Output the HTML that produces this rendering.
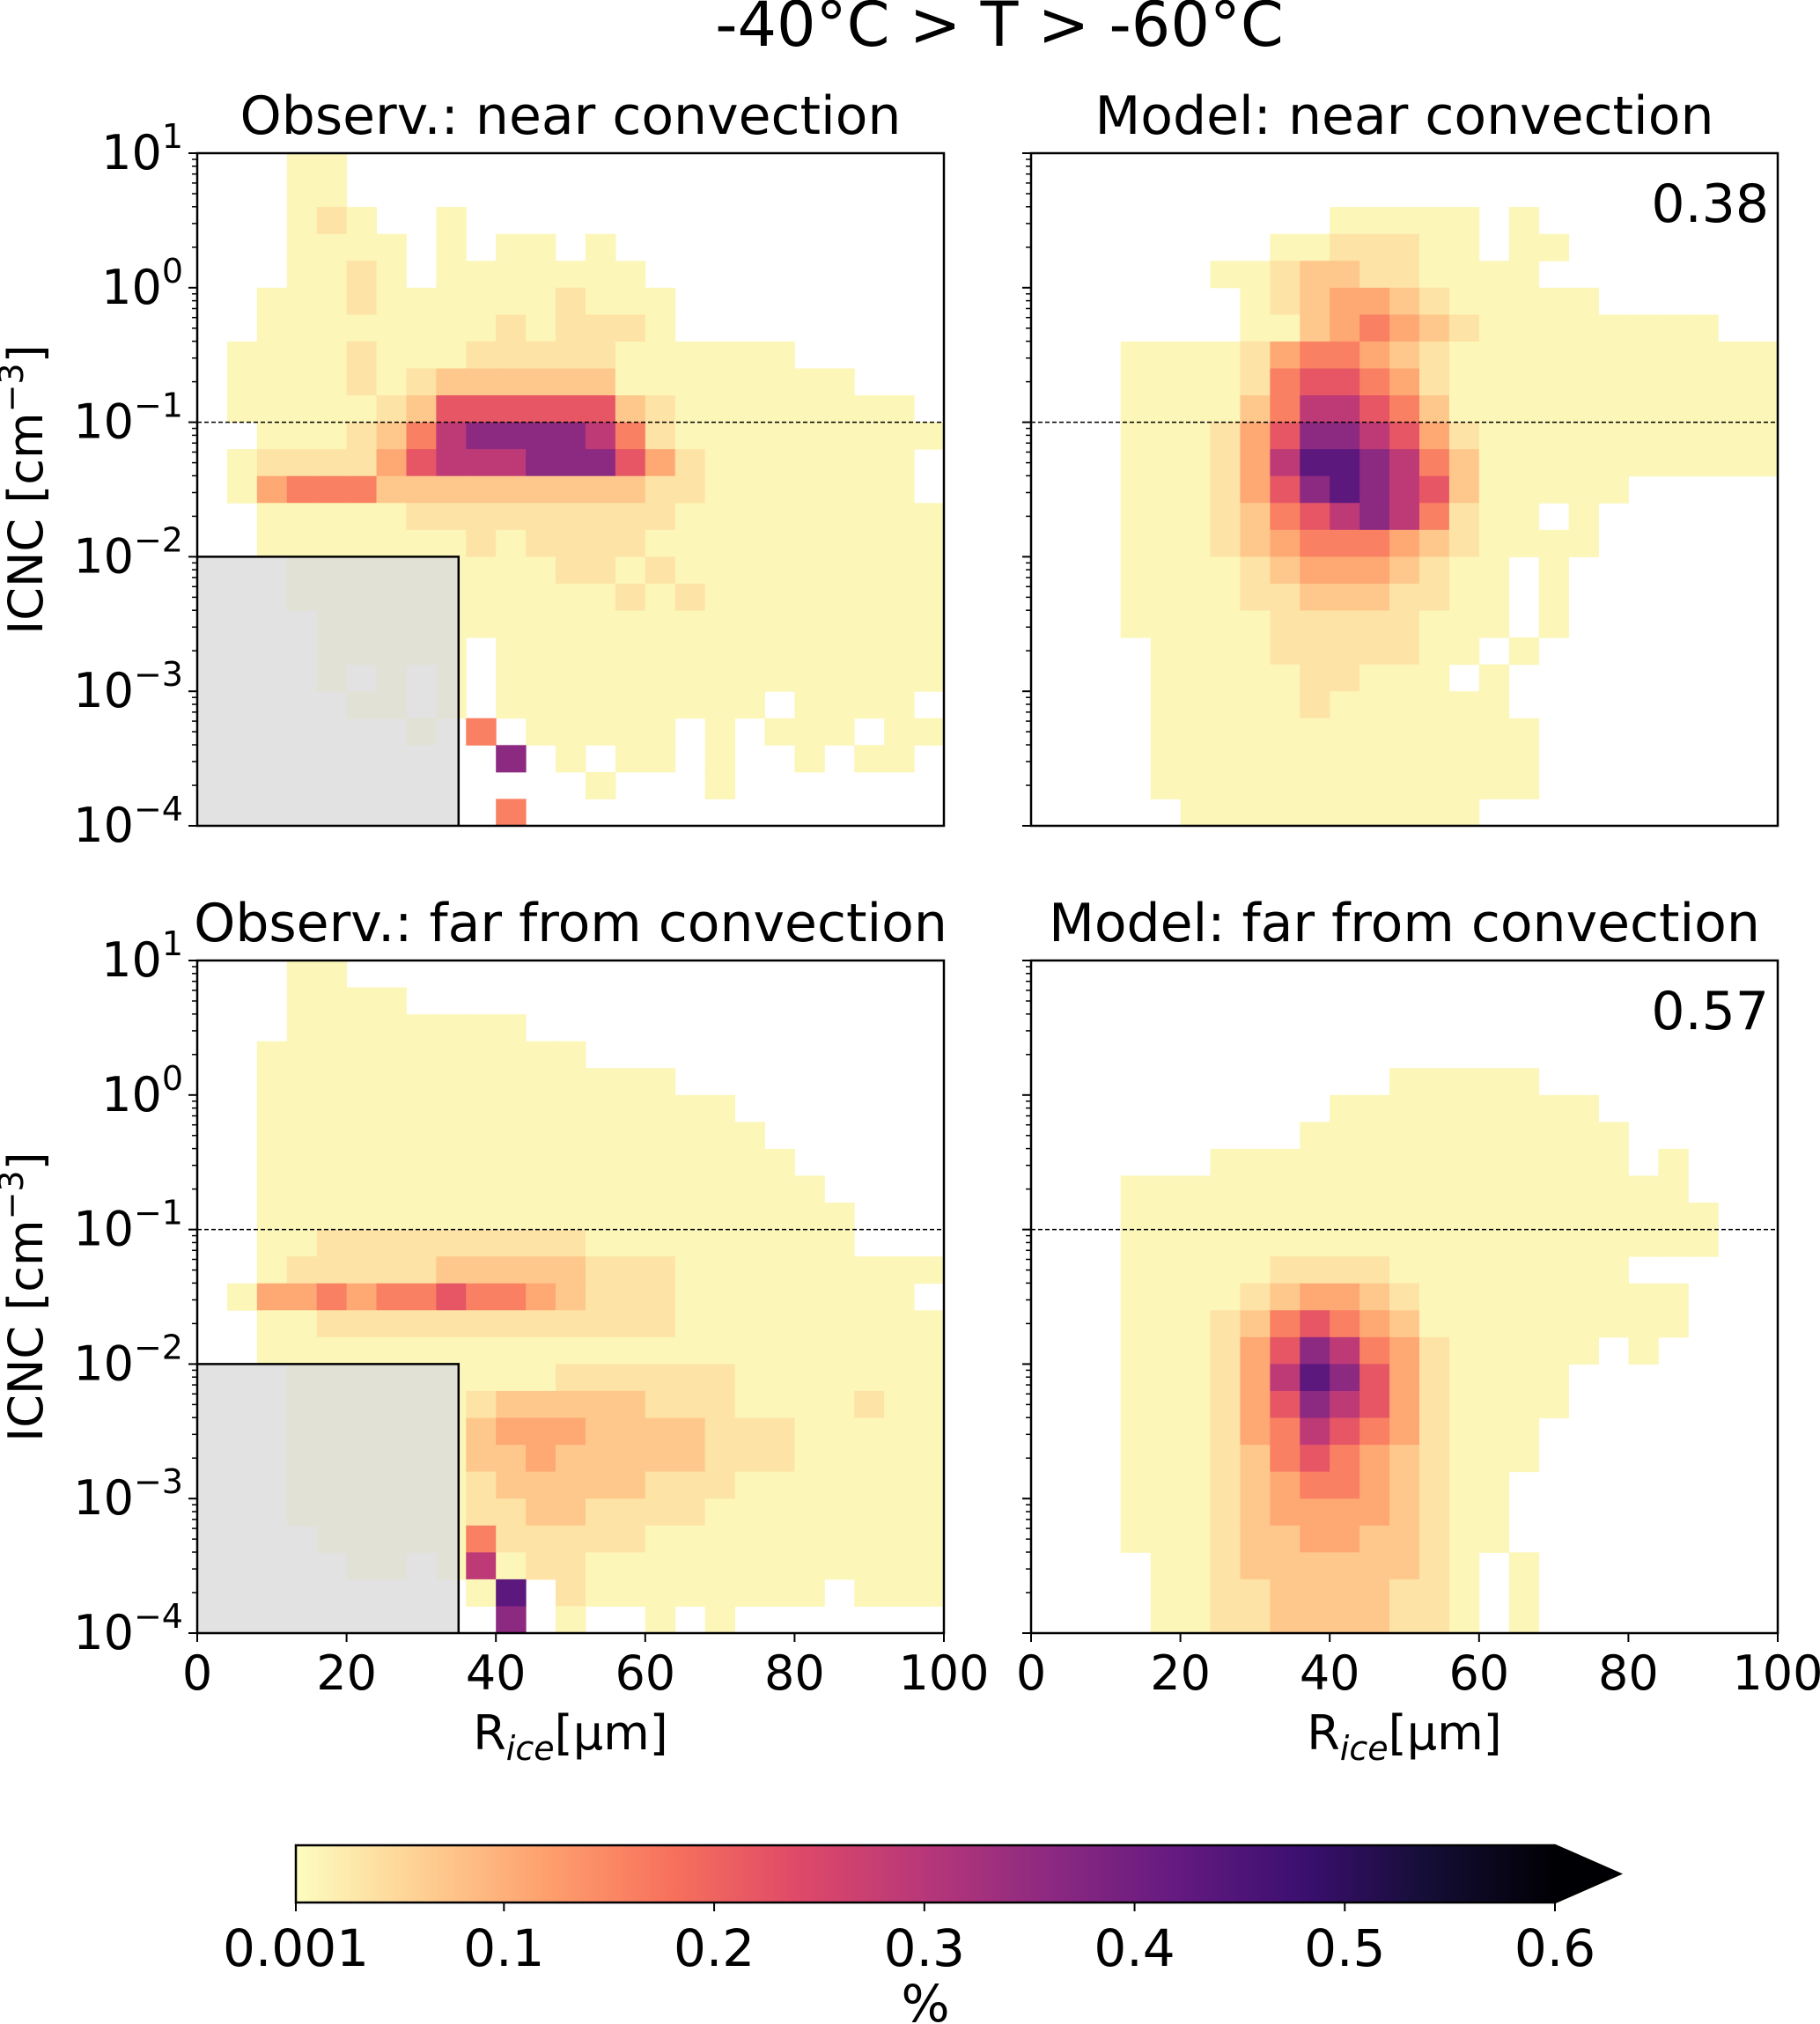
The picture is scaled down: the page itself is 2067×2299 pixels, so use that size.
<!DOCTYPE html>
<html><head><meta charset="utf-8"><style>
body{margin:0;background:#fff}
svg{display:block;font-family:"DejaVu Sans","Liberation Sans",sans-serif}
</style></head><body>
<svg id="fig" width="2067" height="2299" viewBox="0 0 2067 2299" xmlns="http://www.w3.org/2000/svg">
<defs>
<linearGradient id="magr" x1="0" x2="1" y1="0" y2="0">
<stop offset="0" stop-color="#fcfdbf"/><stop offset="0.1" stop-color="#fecf92"/><stop offset="0.2" stop-color="#fe9f6d"/><stop offset="0.3" stop-color="#f7705c"/><stop offset="0.4" stop-color="#de4968"/><stop offset="0.5" stop-color="#b73779"/><stop offset="0.6" stop-color="#8c2981"/><stop offset="0.7" stop-color="#641a80"/><stop offset="0.8" stop-color="#3b0f70"/><stop offset="0.9" stop-color="#140e36"/><stop offset="1" stop-color="#000004"/>
</linearGradient>
</defs>
<text x="1135" y="52" font-size="70" text-anchor="middle">-40°C &gt; T &gt; -60°C</text>
</svg>
<script>
// ---- data ----
const xEdgesStep = 4;            // µm per bin (x from 0 to 100)
const yLogTop = 1, yLogStep = 0.2; // decades per bin
const codeValues = [0, 0.01, 0.035, 0.07, 0.11, 0.16, 0.22, 0.29, 0.36, 0.43];
const obsNear = [
"...11....................","...11....................","...121..1................","...1111.1.11.1...........","...1121.1111111..........",
"..11121111112111.........","..11111111212221.........",".1111211122222111111.....",".111121233333311111111...",".11111236666663211111111.",
"..11123578888752111111111",".12222467778886421111111",".14555333333333221111111.","..11111222222222111111111","..11111112122221111111111",
"...1111111112212111111111","...1111111111121211111111","....111111111111111111111","....11111.111111111111111.".slice(0,25),"....1.1.1.111111111111111",
".....11.1.111111111.1111",".......1.5.11111.1.111.11","..........8.1.11.1..1.11.1",".............1...1........".slice(0,25),"..........5.............."];
const modelNear = [
".........................",".........................","..........11111.1........","........1122211.11.......","......11233221111........",
".......123443211111.....",".......1134543211111111..","...1111245543211111111111","...1111256654211111111111","...1111357765311111111111",
"...1112468876421111111111","...1112479987531111111111","...11124689876311111.....","...11123567875211.1......","...1112345554321111......",
"...1111234443211.1.......","...1111223332211.1.......","...1111122222111.1.......","....11112222211.1........","....1111122111.1.........",
"....111112111111........","....1111111111111........","....1111111111111........","....1111111111111........",".....1111111111..........."];
const obsFar = [
"...11....................","...1111..................","...11111111..............","..11111111111............","..11111111111111.........",
"..1111111111111111.......","..11111111111111111......","..111111111111111111.....","..1111111111111111111....","..11111111111111111111...",
"..11222222222111111111...","..12222233333222111111111",".14454556554322211111111","..11222222222222111111111","..11111111111111111111111",
"...11111111122222211111111","...1111112333332221111211","...1111113444333322211111","...1111113343333322211111","...1111112333332221111111",
"...1111112233222211111111","....1111152222211111111111",".....11.171221111111111111",".........19.211111111.11111","..........8.1..1.1........"];
const modelFar = [
".........................",".........................",".........................",".........................","............11111........",
"..........111111111......",".........11111111111.....","......11111111111111.1...","...1111111111111111111...","...11111111111111111111..",
"...11111111111111111111..","...11111222211111111.....","...1111234432111111111...","...1112356543111111111...","...1112468754211111.1....",
"...111247986421111.......","...111246876421111.......","...11124576542111........","...11123565432111........","...1112345543211.........",
"...1112344443211.........","...1112334433211.........","....11233333321.1........","....11223333221.1........","....11223333221.1........"];
const xTicks = [0, 20, 40, 60, 80, 100];
const yTickExps = [1, 0, -1, -2, -3, -4];
const cbTicks = [0.001, 0.1, 0.2, 0.3, 0.4, 0.5, 0.6];
const cbTickLabels = ["0.001", "0.1", "0.2", "0.3", "0.4", "0.5", "0.6"];
const corrValues = ["0.38", "0.57"];
const vmin = 0.001, vmax = 0.6;

// ---- helpers ----
const NS = "http://www.w3.org/2000/svg";
const svg = document.getElementById("fig");
function mk(tag, attrs, parent) {
  const e = document.createElementNS(NS, tag);
  for (const k in attrs) e.setAttribute(k, attrs[k]);
  (parent || svg).appendChild(e);
  return e;
}
const magma = ["#000004","#140e36","#3b0f70","#641a80","#8c2981","#b73779","#de4968","#f7705c","#fe9f6d","#fecf92","#fcfdbf"];
function hex2rgb(h){return [1,3,5].map(i=>parseInt(h.substr(i,2),16));}
function cmap(v){
  let t = (v - vmin) / (vmax - vmin); t = Math.max(0, Math.min(1, t));
  const u = (1 - t) * 10; const i = Math.min(9, Math.floor(u)); const f = u - i;
  const a = hex2rgb(magma[i]), b = hex2rgb(magma[i + 1]);
  return "rgb(" + a.map((c, k) => Math.round(c + (b[k] - c) * f)).join(",") + ")";
}

const panels = [
  {x0:224,y0:174,grid:obsNear,title:"Observ.: near convection",obs:true,bottom:false,name:"obs-near"},
  {x0:1171,y0:174,grid:modelNear,title:"Model: near convection",obs:false,bottom:false,corr:corrValues[0],name:"model-near"},
  {x0:224,y0:1091,grid:obsFar,title:"Observ.: far from convection",obs:true,bottom:true,name:"obs-far"},
  {x0:1171,y0:1091,grid:modelFar,title:"Model: far from convection",obs:false,bottom:true,corr:corrValues[1],name:"model-far"}
];
const W = 848, H = 764;

panels.forEach(p => {
  const xs = v => p.x0 + v / 100 * W;
  const ys = lg => p.y0 + (1 - lg) / 5 * H;
  const g = mk("g", {});
  
  
  p.grid.forEach((row, r) => {
    for (let c = 0; c < 25; c++) {
      const ch = row[c];
      if (!ch || ch === ".") continue;
      const v = codeValues[+ch];
      const lgTop = yLogTop - yLogStep * r, lgBot = lgTop - yLogStep;
      const rc = mk("rect", {x: xs(c * xEdgesStep), y: ys(lgTop), width: xs((c + 1) * xEdgesStep) - xs(c * xEdgesStep) + 0.5, height: ys(lgBot) - ys(lgTop) + 0.5, fill: cmap(v)}, g);
      
      
    }
  });
  if (p.obs) {
    const box = mk("rect", {x: xs(0), y: ys(-2), width: xs(35) - xs(0), height: ys(-4) - ys(-2), fill: "#dcdcdc", "fill-opacity": 0.82}, g);
    
    
    const bl = mk("polyline", {points: `${xs(0)},${ys(-2)} ${xs(35)},${ys(-2)} ${xs(35)},${ys(-4)}`, fill: "none", stroke: "#000", "stroke-width": 2.5}, g);
    
    
  }
  const dl = mk("line", {x1: xs(0), x2: xs(100), y1: ys(-1), y2: ys(-1), stroke: "#000", "stroke-width": 1.5, "stroke-dasharray": "5,3"}, g);
  
  
  const fr = mk("rect", {x: p.x0, y: p.y0, width: W, height: H, fill: "none", stroke: "#000", "stroke-width": 2.5}, g);
  
  
  const tt = mk("text", {x: p.x0 + W / 2, y: p.y0 - 22, "font-size": 60, "text-anchor": "middle"}, g);
  tt.textContent = p.title;
  
  
  if (p.corr) {
    const ct = mk("text", {x: p.x0 + W - 10, y: p.y0 + 78, "font-size": 60, "text-anchor": "end"}, g);
    ct.textContent = p.corr;
    
    
  }
  yTickExps.forEach(e => {
    const y = ys(e);
    mk("line", {x1: p.x0 - 10, x2: p.x0, y1: y, y2: y, stroke: "#000", "stroke-width": 2}, g);
    if (e > -4) for (let m = 2; m <= 9; m++) {
      const ym = ys(e - 1 + Math.log10(m));
      mk("line", {x1: p.x0 - 6, x2: p.x0, y1: ym, y2: ym, stroke: "#000", "stroke-width": 1.5}, g);
    }
    if (p.obs) {
      const t = mk("text", {x: p.x0 - 16, y: y + 18, "font-size": 54, "text-anchor": "end"}, g);
      
      
      const b = mk("tspan", {}, t); b.textContent = "10";
      const s = mk("tspan", {dy: -24, "font-size": 38}, t); s.textContent = e < 0 ? "\u2212" + (-e) : String(e);
    }
  });
  if (p.obs) {
    const yl = mk("text", {x: 0, y: 0, "font-size": 54, "text-anchor": "middle", transform: `translate(48,${p.y0 + H / 2}) rotate(-90)`}, g);
    
    
    const a = mk("tspan", {}, yl); a.textContent = "ICNC [cm";
    const b = mk("tspan", {dy: -22, "font-size": 38}, yl); b.textContent = "\u22123";
    const c = mk("tspan", {dy: 22}, yl); c.textContent = "]";
  }
  if (p.bottom) {
    xTicks.forEach(v => {
      const x = xs(v);
      mk("line", {x1: x, x2: x, y1: p.y0 + H, y2: p.y0 + H + 10, stroke: "#000", "stroke-width": 2}, g);
      const t = mk("text", {x: x, y: p.y0 + H + 64, "font-size": 54, "text-anchor": "middle"}, g);
      t.textContent = v;
      
      
    });
    const xl = mk("text", {x: p.x0 + W / 2, y: p.y0 + H + 132, "font-size": 54, "text-anchor": "middle"}, g);
    
    
    const a = mk("tspan", {}, xl); a.textContent = "R";
    const b = mk("tspan", {dy: 12, "font-size": 38, "font-style": "italic"}, xl); b.textContent = "ice";
    const c = mk("tspan", {dy: -12}, xl); c.textContent = "[\u03bcm]";
  }
});

// colorbar
const cbX = 336, cbY = 2096, cbW = 1430, cbH = 65;
const cbx = v => cbX + (v - vmin) / (vmax - vmin) * cbW;
const cb = mk("rect", {x: cbX, y: cbY, width: cbW, height: cbH, fill: "url(#magr)"});


const tri = mk("polygon", {points: `${cbX + cbW},${cbY} ${cbX + cbW + 74},${cbY + cbH / 2} ${cbX + cbW},${cbY + cbH}`, fill: "#000004"});


mk("polygon", {points: `${cbX},${cbY} ${cbX + cbW},${cbY} ${cbX + cbW + 74},${cbY + cbH / 2} ${cbX + cbW},${cbY + cbH} ${cbX},${cbY + cbH}`, fill: "none", stroke: "#000", "stroke-width": 2.5});
cbTicks.forEach((v, i) => {
  const x = cbx(v);
  mk("line", {x1: x, x2: x, y1: cbY + cbH, y2: cbY + cbH + 10, stroke: "#000", "stroke-width": 2});
  const t = mk("text", {x: x, y: cbY + cbH + 72, "font-size": 58, "text-anchor": "middle"});
  t.textContent = cbTickLabels[i];
  
  
});
const pc = mk("text", {x: cbX + cbW / 2, y: 2296, "font-size": 58, "text-anchor": "middle"});
pc.textContent = "%";


</script>
</body></html>
